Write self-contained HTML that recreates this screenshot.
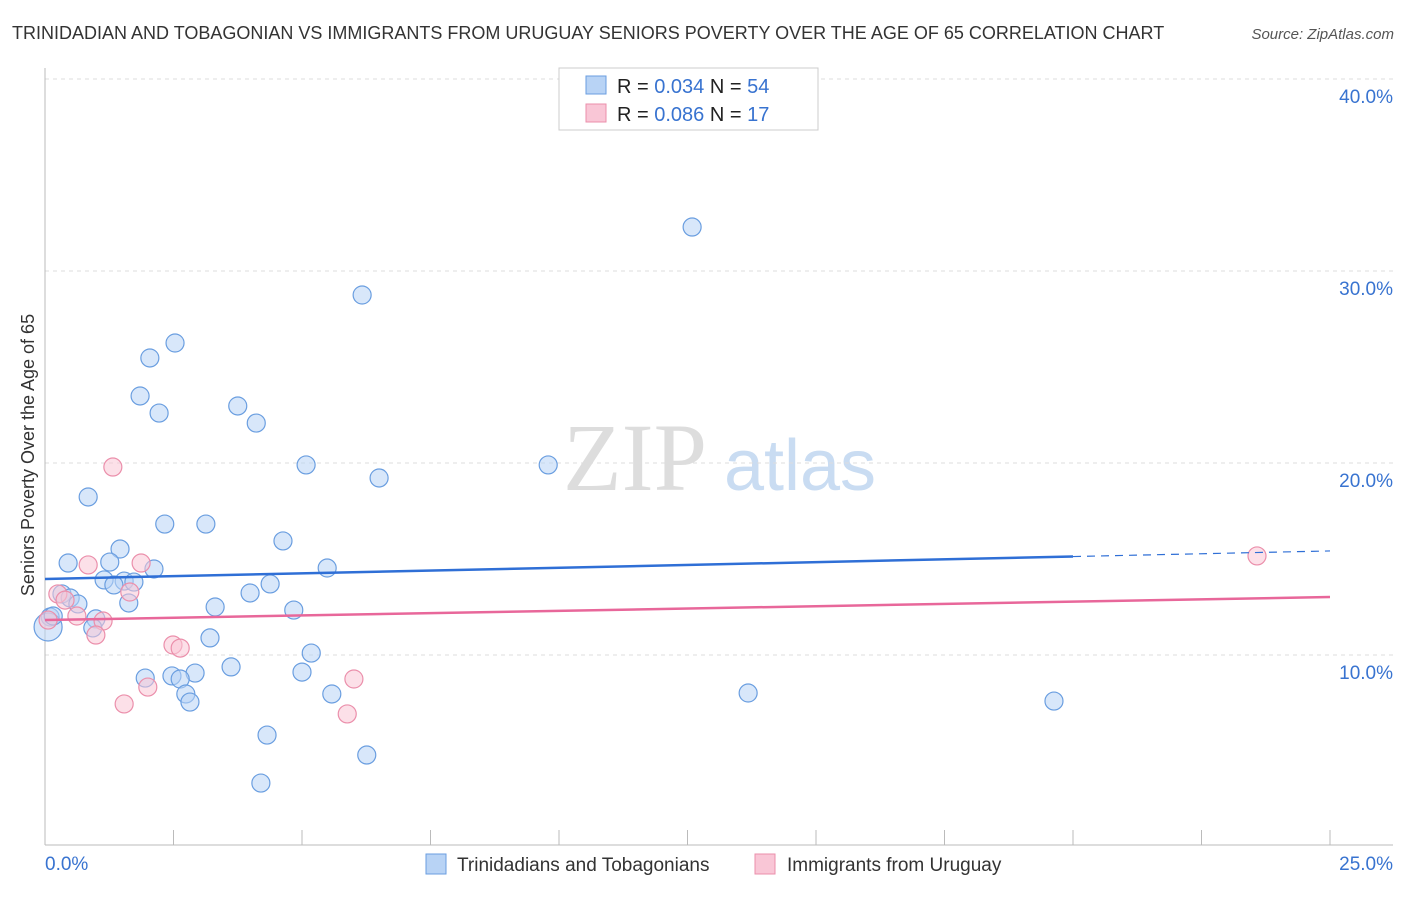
<!DOCTYPE html>
<html><head><meta charset="utf-8"><style>
body{margin:0;background:#fff;font-family:"Liberation Sans",sans-serif}
</style></head><body>
<svg width="1406" height="892" xmlns="http://www.w3.org/2000/svg" id="chart" font-family="Liberation Sans, sans-serif">
<text x="12" y="39" font-size="18" fill="#333">TRINIDADIAN AND TOBAGONIAN VS IMMIGRANTS FROM URUGUAY SENIORS POVERTY OVER THE AGE OF 65 CORRELATION CHART</text>
<text x="1394" y="39" font-size="15" fill="#555" font-style="italic" text-anchor="end">Source: ZipAtlas.com</text>
<g><text x="635" y="490" font-size="96" font-family="Liberation Serif, serif" fill="#ddd" text-anchor="middle">ZIP</text><text x="800" y="490" font-size="72" fill="#c9dcf2" text-anchor="middle">atlas</text></g>
<g id="grid"></g>
<g id="axes"></g>
<g id="marks"></g>
<text transform="translate(34,455) rotate(-90)" font-size="18" fill="#333" text-anchor="middle">Seniors Poverty Over the Age of 65</text>
<g>
<rect x="559" y="68" width="259" height="62" fill="#fff" stroke="#ccc"/>
<rect x="586" y="76" width="20" height="18" fill="#b8d3f5" stroke="#6a9ee0"/>
<rect x="586" y="104" width="20" height="18" fill="#f9c6d6" stroke="#eb8fab"/>
<text x="617" y="93" font-size="20" fill="#222">R = <tspan fill="#3873d0">0.034</tspan>   N = <tspan fill="#3873d0">54</tspan></text>
<text x="617" y="121" font-size="20" fill="#222">R = <tspan fill="#3873d0">0.086</tspan>   N =  <tspan fill="#3873d0">17</tspan></text>
</g>
<g>
<rect x="426" y="854" width="20" height="20" fill="#b8d3f5" stroke="#6a9ee0"/>
<text x="457" y="871" font-size="19" fill="#333">Trinidadians and Tobagonians</text>
<rect x="755" y="854" width="20" height="20" fill="#f9c6d6" stroke="#eb8fab"/>
<text x="787" y="871" font-size="19" fill="#333">Immigrants from Uruguay</text>
</g>
</svg>
<script>
const xTicks=[0,25];
const yTicks=[10,20,30,40];
const blueX=[12.59,6.17,2.53,2.04,1.85,2.22,3.75,4.11,5.08,9.79,6.50,0.84,2.33,3.13,4.63,1.46,0.45,1.26,2.12,5.49,1.15,1.54,1.73,1.34,4.38,3.99,0.33,0.49,0.64,1.63,3.31,4.84,0.10,0.99,0.93,0.06,3.21,5.18,3.62,2.92,5.00,1.95,2.47,2.63,2.74,5.58,2.82,13.68,19.63,4.32,6.26,4.20,0.16];
const blueY=[32.29,28.75,26.25,25.47,23.49,22.60,22.97,22.08,19.90,19.90,19.22,18.23,16.82,16.82,15.94,15.52,14.79,14.84,14.48,14.53,13.91,13.85,13.80,13.65,13.70,13.23,13.18,12.97,12.66,12.71,12.50,12.34,11.98,11.88,11.41,11.46,10.89,10.10,9.38,9.06,9.11,8.80,8.91,8.75,7.97,7.97,7.55,8.02,7.60,5.83,4.79,3.33,12.03];
const pinkX=[1.32,23.58,1.87,0.84,0.25,0.39,1.65,0.62,1.13,0.99,2.49,2.63,6.01,2.00,1.54,5.88,0.06];
const pinkY=[19.79,15.16,14.79,14.69,13.18,12.86,13.28,12.03,11.77,11.04,10.52,10.36,8.75,8.33,7.45,6.93,11.82];
const blueTrend=[13.96,15.42];
const pinkTrend=[11.82,13.02];
const blueSolidEnd=20;
const X0=45,X1=1330,Y0=847,PX=19.2;
const sx=v=>X0+(X1-X0)*v/25, sy=v=>Y0-v*PX;
const NS="http://www.w3.org/2000/svg";
function mk(tag,attrs,parent){const e=document.createElementNS(NS,tag);for(const k in attrs)e.setAttribute(k,attrs[k]);document.getElementById(parent).appendChild(e);return e;}
yTicks.forEach(t=>{
 const l=mk('line',{x1:45,x2:1393,y1:sy(t),y2:sy(t),stroke:'#ddd','stroke-dasharray':'4,4'},'grid');
 
 
 const tx=mk('text',{x:1393,y:sy(t)+24,'font-size':19,fill:'#3873d0','text-anchor':'end'},'grid');
 tx.textContent=t.toFixed(1)+'%';
 
 
});
const ax=mk('line',{x1:45,x2:45,y1:68,y2:845,stroke:'#bbb'},'axes');


const bx=mk('line',{x1:45,x2:1393,y1:845,y2:845,stroke:'#bbb'},'axes');


for(let i=0;i<=10;i++){
 const t=mk('line',{x1:sx(i*2.5),x2:sx(i*2.5),y1:830,y2:845,stroke:'#bbb'},'axes');
 
 
}
xTicks.forEach((t,i)=>{
 const tx=mk('text',{x:i?1393:45,y:870,'font-size':19,fill:'#3873d0','text-anchor':i?'end':'start'},'axes');
 tx.textContent=t.toFixed(1)+'%';
 
 
});
function dots(xs,ys,fill,stroke,name){
 xs.forEach((x,i)=>{
  const r=(x<0.1&&ys[i]>11&&ys[i]<12&&name==='blue')?14:9;
  const c=mk('circle',{cx:sx(x),cy:sy(ys[i]),r:r,fill:fill,'fill-opacity':0.55,stroke:stroke,'stroke-width':1.2},'marks');
  
  
 });
}
dots(blueX,blueY,'#b8d3f5','#6a9ee0','blue');
dots(pinkX,pinkY,'#f9c6d6','#eb8fab','pink');
const by=v=>blueTrend[0]+(blueTrend[1]-blueTrend[0])*v/25;
const bl=mk('line',{x1:sx(0),y1:sy(by(0)),x2:sx(blueSolidEnd),y2:sy(by(blueSolidEnd)),stroke:'#2f6fd6','stroke-width':2.5},'marks');


const bd=mk('line',{x1:sx(blueSolidEnd),y1:sy(by(blueSolidEnd)),x2:sx(25),y2:sy(by(25)),stroke:'#2f6fd6','stroke-width':1.2,'stroke-dasharray':'8,6'},'marks');


const pl=mk('line',{x1:sx(0),y1:sy(pinkTrend[0]),x2:sx(25),y2:sy(pinkTrend[1]),stroke:'#e8679a','stroke-width':2.5},'marks');


</script>
</body></html>
